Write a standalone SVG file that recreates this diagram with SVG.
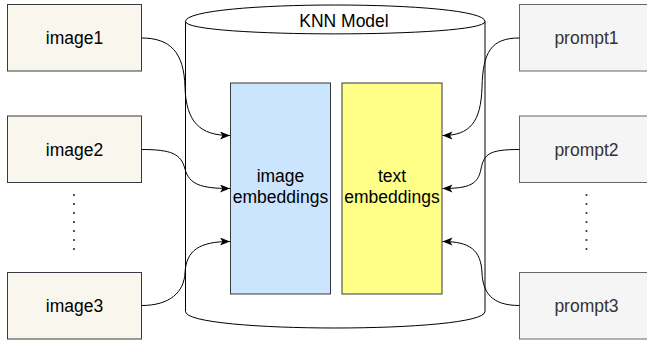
<svg xmlns="http://www.w3.org/2000/svg" width="647" height="341" viewBox="0 0 647 341">
<defs>
<style>
.src{fill:#f9f7ed;stroke:#36393d;stroke-width:1}
.prm{fill:#f5f5f5;stroke:#666666;stroke-width:1}
.t{font-family:"Liberation Sans",Arial,sans-serif;font-size:17.5px;text-anchor:middle;fill:#000}
.tp{fill:#333333}
.edge{fill:none;stroke:#000;stroke-width:1}
.dots{stroke:#333;stroke-width:2.2;stroke-dasharray:0 9;stroke-linecap:round;fill:none}
</style>
<marker id="arr" markerUnits="userSpaceOnUse" markerWidth="12" markerHeight="10" refX="10" refY="4" orient="auto">
<path d="M0,0 L10,4 L0,8 L2.5,4 Z" fill="#000"/>
</marker>
</defs>

<g id="knn-model">
<path d="M185.5,21.5 C185.5,-0.5 485,-0.5 485,21.5 L485,311.5 C485,333.5 185.5,333.5 185.5,311.5 Z" fill="#fff" stroke="#000" stroke-width="1"/>
<path d="M185.5,21.5 C185.5,38 485,38 485,21.5" fill="none" stroke="#000" stroke-width="1"/>
<text class="t" x="344" y="27">KNN Model</text>
</g>

<g id="image-embeddings">
<rect x="230.5" y="83" width="100" height="211" fill="#cce5ff" stroke="#36393d"/>
<text class="t" x="280.5" y="182">image</text>
<text class="t" x="280.5" y="203">embeddings</text>
</g>

<g id="text-embeddings">
<rect x="342" y="83" width="100" height="211" fill="#ffff88" stroke="#36393d"/>
<text class="t" x="392" y="182">text</text>
<text class="t" x="392" y="203">embeddings</text>
</g>

<g id="image1"><rect class="src" x="7.5" y="4.5" width="134" height="66.5"/><text class="t" x="74.5" y="44">image1</text></g>
<g id="image2"><rect class="src" x="7.5" y="116" width="134" height="66.5"/><text class="t" x="74.5" y="155.5">image2</text></g>
<g id="image3"><rect class="src" x="7.5" y="272.5" width="134" height="66.5"/><text class="t" x="74.5" y="311.5">image3</text></g>

<g id="prompt1"><rect class="prm" x="519.5" y="4.5" width="134" height="66.5"/><text class="t tp" x="586.5" y="44">prompt1</text></g>
<g id="prompt2"><rect class="prm" x="519.5" y="116" width="134" height="66.5"/><text class="t tp" x="586.5" y="155.5">prompt2</text></g>
<g id="prompt3"><rect class="prm" x="519.5" y="272.5" width="134" height="66.5"/><text class="t tp" x="586.5" y="311.5">prompt3</text></g>

<g id="ellipsis">
<line class="dots" x1="74" y1="195" x2="74" y2="250"/>
<line class="dots" x1="586.5" y1="195" x2="586.5" y2="250"/>
</g>

<g id="connectors">
<path class="edge" marker-end="url(#arr)" d="M141.5,38 C170,38 184,52 185,87 C186,122 200,135.5 230,135.5"/>
<path class="edge" marker-end="url(#arr)" d="M141.5,149.5 C172,149.5 181,154 185,169 C189,184 200,188.5 230,188.5"/>
<path class="edge" marker-end="url(#arr)" d="M141.5,305.5 C170,305.5 184,292 185,273 C186,250 200,241.5 230,241.5"/>
<path class="edge" marker-end="url(#arr)" d="M519.5,38 C491,38 483,52 482,87 C481,122 470,135.5 442.5,135.5"/>
<path class="edge" marker-end="url(#arr)" d="M519.5,149.5 C489,149.5 484,154 481,169 C478,184 470,188.5 442.5,188.5"/>
<path class="edge" marker-end="url(#arr)" d="M519.5,305.5 C491,305.5 483,292 482,273 C481,250 470,241.5 442.5,241.5"/>
</g>
</svg>
